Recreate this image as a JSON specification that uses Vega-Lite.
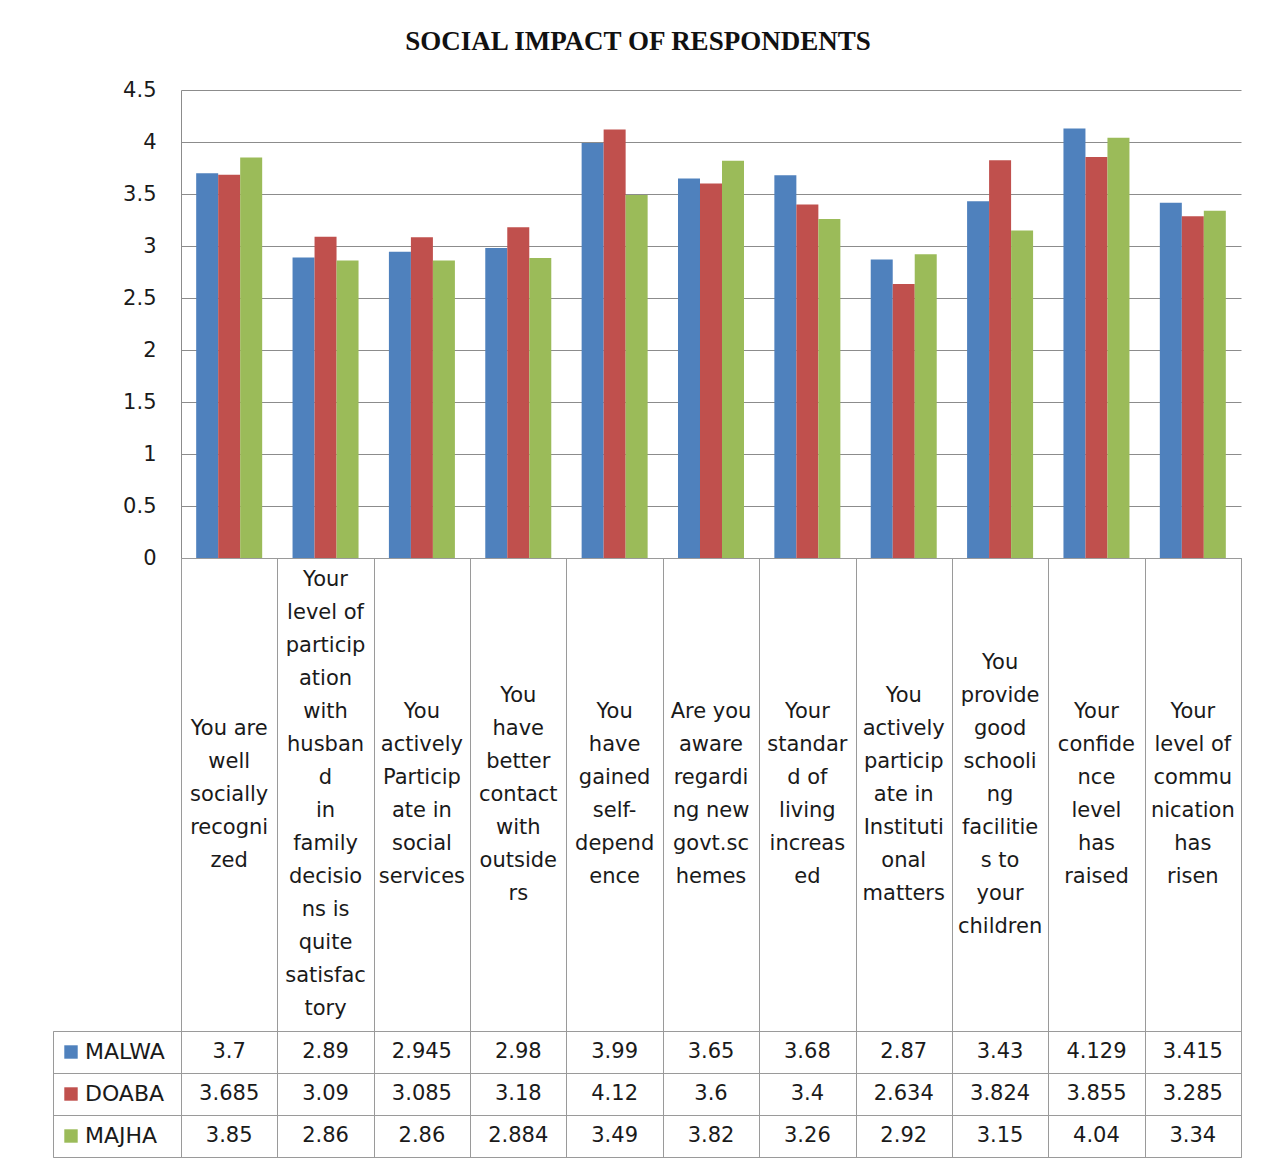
{
  "$schema": "https://vega.github.io/schema/vega-lite/v6.json",
  "padding": {"left": 52, "top": 28, "right": 28, "bottom": 12},
  "title": {"text": "SOCIAL IMPACT OF RESPONDENTS", "font": "Liberation Serif", "fontSize": 27, "fontWeight": "bold", "color": "#111111", "anchor": "middle", "offset": 23, "dx": -9},
  "columns": 2,
  "spacing": 0,
  "bounds": "flush",
  "datasets": {
    "vals": [
      {"q": 1, "region": "MALWA", "v": 3.7}, {"q": 1, "region": "DOABA", "v": 3.685}, {"q": 1, "region": "MAJHA", "v": 3.85},
      {"q": 2, "region": "MALWA", "v": 2.89}, {"q": 2, "region": "DOABA", "v": 3.09}, {"q": 2, "region": "MAJHA", "v": 2.86},
      {"q": 3, "region": "MALWA", "v": 2.945}, {"q": 3, "region": "DOABA", "v": 3.085}, {"q": 3, "region": "MAJHA", "v": 2.86},
      {"q": 4, "region": "MALWA", "v": 2.98}, {"q": 4, "region": "DOABA", "v": 3.18}, {"q": 4, "region": "MAJHA", "v": 2.884},
      {"q": 5, "region": "MALWA", "v": 3.99}, {"q": 5, "region": "DOABA", "v": 4.12}, {"q": 5, "region": "MAJHA", "v": 3.49},
      {"q": 6, "region": "MALWA", "v": 3.65}, {"q": 6, "region": "DOABA", "v": 3.6}, {"q": 6, "region": "MAJHA", "v": 3.82},
      {"q": 7, "region": "MALWA", "v": 3.68}, {"q": 7, "region": "DOABA", "v": 3.4}, {"q": 7, "region": "MAJHA", "v": 3.26},
      {"q": 8, "region": "MALWA", "v": 2.87}, {"q": 8, "region": "DOABA", "v": 2.634}, {"q": 8, "region": "MAJHA", "v": 2.92},
      {"q": 9, "region": "MALWA", "v": 3.43}, {"q": 9, "region": "DOABA", "v": 3.824}, {"q": 9, "region": "MAJHA", "v": 3.15},
      {"q": 10, "region": "MALWA", "v": 4.129}, {"q": 10, "region": "DOABA", "v": 3.855}, {"q": 10, "region": "MAJHA", "v": 4.04},
      {"q": 11, "region": "MALWA", "v": 3.415}, {"q": 11, "region": "DOABA", "v": 3.285}, {"q": 11, "region": "MAJHA", "v": 3.34}
    ],
    "labels": [
      {"q": 1, "label": "You are\nwell\nsocially\nrecogni\nzed"},
      {"q": 2, "label": "Your\nlevel of\nparticip\nation\nwith\nhusban\nd\nin\nfamily\ndecisio\nns is\nquite\nsatisfac\ntory"},
      {"q": 3, "label": "You\nactively\nParticip\nate in\nsocial\nservices"},
      {"q": 4, "label": "You\nhave\nbetter\ncontact\nwith\noutside\nrs"},
      {"q": 5, "label": "You\nhave\ngained\nself-\ndepend\nence"},
      {"q": 6, "label": "Are you\naware\nregardi\nng new\ngovt.sc\nhemes"},
      {"q": 7, "label": "Your\nstandar\nd of\nliving\nincreas\ned"},
      {"q": 8, "label": "You\nactively\nparticip\nate in\nInstituti\nonal\nmatters"},
      {"q": 9, "label": "You\nprovide\ngood\nschooli\nng\nfacilitie\ns to\nyour\nchildren"},
      {"q": 10, "label": "Your\nconfide\nnce\nlevel\nhas\nraised"},
      {"q": 11, "label": "Your\nlevel of\ncommu\nnication\nhas\nrisen"}
    ],
    "regions": [{"region": "MALWA"}, {"region": "DOABA"}, {"region": "MAJHA"}]
  },
  "config": {"view": {"stroke": null}, "font": "DejaVu Sans"},
  "concat": [
    {"width": 128, "height": 468, "data": {"values": [{}]}, "mark": {"type": "point", "opacity": 0}, "encoding": {}},
    {
      "width": 1060, "height": 468,
      "data": {"name": "vals"},
      "mark": {"type": "bar"},
      "encoding": {
        "x": {"field": "q", "type": "ordinal", "scale": {"paddingInner": 0, "paddingOuter": 0}, "axis": {"labels": false, "ticks": false, "title": null, "domainColor": "#8c8c8c", "grid": false}},
        "xOffset": {"field": "region", "type": "nominal", "sort": ["MALWA", "DOABA", "MAJHA"], "scale": {"paddingInner": 0, "paddingOuter": 0.69}},
        "y": {"field": "v", "type": "quantitative", "scale": {"domain": [0, 4.5], "nice": false}, "axis": {"values": [0, 0.5, 1, 1.5, 2, 2.5, 3, 3.5, 4, 4.5], "format": "~g", "grid": true, "gridColor": "#8c8c8c", "domainColor": "#8c8c8c", "ticks": false, "tickSize": 0, "labelPadding": 25, "title": null, "labelFontSize": 21, "labelColor": "#1a1a1a", "labelFont": "DejaVu Sans"}},
        "color": {"field": "region", "type": "nominal", "scale": {"domain": ["MALWA", "DOABA", "MAJHA"], "range": ["#4F81BD", "#C0504D", "#9BBB59"]}, "legend": null}
      }
    },
    {"width": 128, "height": 473, "data": {"values": [{}]}, "mark": {"type": "point", "opacity": 0}, "encoding": {}},
    {
      "width": 1060, "height": 473,
      "data": {"name": "labels"},
      "view": {"stroke": "#9a9a9a"},
      "mark": {"type": "text", "lineBreak": "\n", "lineHeight": 33, "fontSize": 21, "color": "#1a1a1a", "baseline": "middle", "font": "DejaVu Sans", "dy": {"expr": "-(length(split(datum.label, '\\n')) - 1) * 33 / 2"}},
      "encoding": {
        "x": {"field": "q", "type": "ordinal", "scale": {"paddingInner": 0, "paddingOuter": 0}, "axis": {"grid": true, "tickBand": "extent", "labels": false, "ticks": false, "domain": false, "title": null, "gridColor": "#9a9a9a"}},
        "text": {"field": "label", "type": "nominal"}
      }
    },
    {
      "width": 128, "height": 126,
      "data": {"name": "regions"},
      "view": {"stroke": "#9a9a9a"},
      "encoding": {
        "y": {"field": "region", "type": "nominal", "sort": ["MALWA", "DOABA", "MAJHA"], "scale": {"paddingInner": 0, "paddingOuter": 0}, "axis": {"grid": true, "tickBand": "extent", "labels": false, "ticks": false, "domain": false, "title": null, "gridColor": "#9a9a9a"}}
      },
      "layer": [
        {"mark": {"type": "point", "shape": "square", "filled": true, "size": 180, "xOffset": -46, "opacity": 1},
         "encoding": {"color": {"field": "region", "type": "nominal", "scale": {"domain": ["MALWA", "DOABA", "MAJHA"], "range": ["#4F81BD", "#C0504D", "#9BBB59"]}, "legend": null}}},
        {"mark": {"type": "text", "align": "left", "dx": -32, "fontSize": 22, "baseline": "middle", "color": "#1a1a1a", "font": "DejaVu Sans"},
         "encoding": {"text": {"field": "region", "type": "nominal"}}}
      ]
    },
    {
      "width": 1060, "height": 126,
      "data": {"name": "vals"},
      "view": {"stroke": "#9a9a9a"},
      "mark": {"type": "text", "fontSize": 21, "color": "#1a1a1a", "baseline": "middle", "font": "DejaVu Sans"},
      "encoding": {
        "x": {"field": "q", "type": "ordinal", "scale": {"paddingInner": 0, "paddingOuter": 0}, "axis": {"grid": true, "tickBand": "extent", "labels": false, "ticks": false, "domain": false, "title": null, "gridColor": "#9a9a9a"}},
        "y": {"field": "region", "type": "nominal", "sort": ["MALWA", "DOABA", "MAJHA"], "scale": {"paddingInner": 0, "paddingOuter": 0}, "axis": {"grid": true, "tickBand": "extent", "labels": false, "ticks": false, "domain": false, "title": null, "gridColor": "#9a9a9a"}},
        "text": {"field": "v", "type": "quantitative", "format": "~g"}
      }
    }
  ]
}
